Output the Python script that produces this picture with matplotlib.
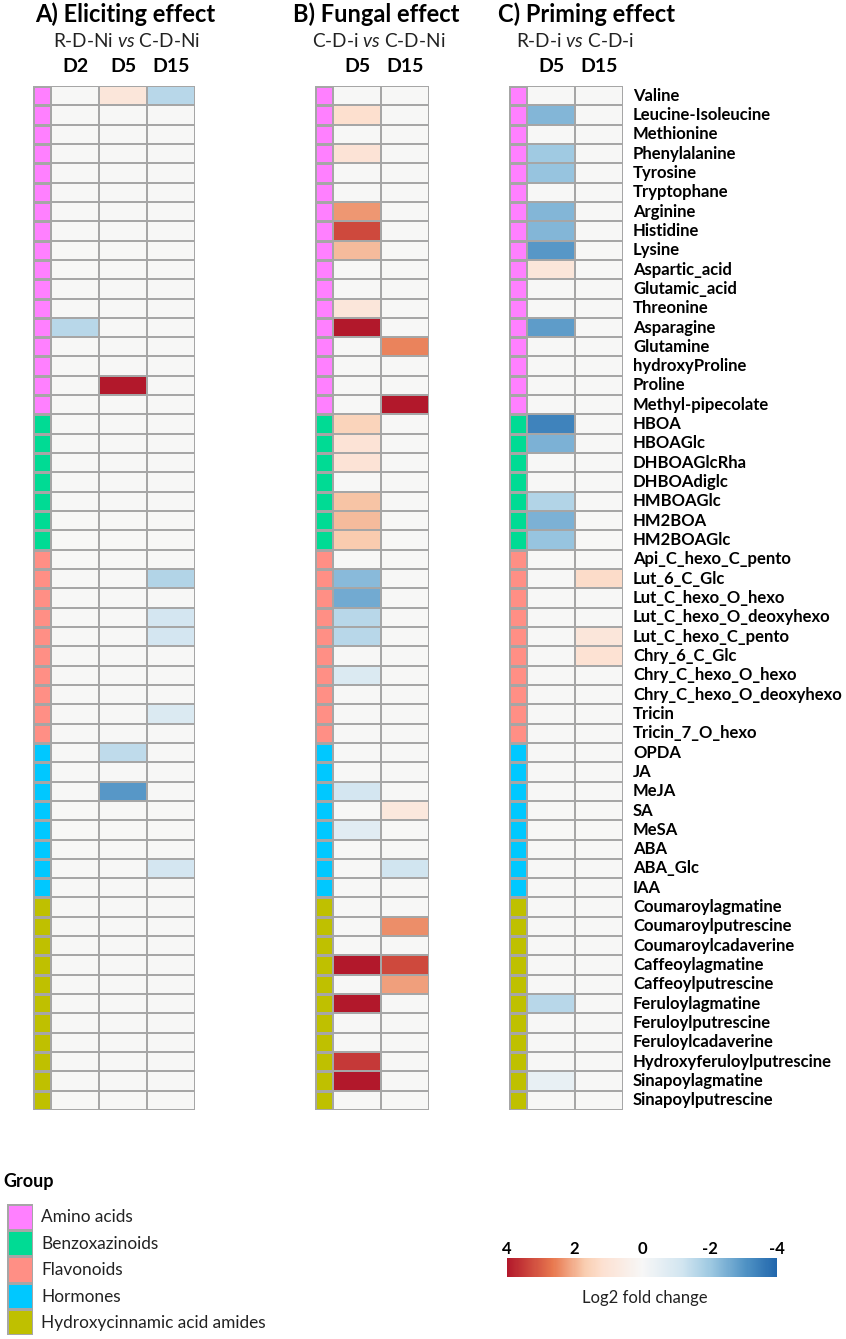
import numpy as np
import matplotlib
matplotlib.use("Agg")
import matplotlib.pyplot as plt
from matplotlib.cm import ScalarMappable
from matplotlib.colors import LinearSegmentedColormap, ListedColormap, Normalize

plt.rcParams['font.family'] = ['Lato', 'DejaVu Sans']
plt.rcParams['mathtext.fontset'] = 'custom'
plt.rcParams['mathtext.it'] = 'Lato:italic'
plt.rcParams['mathtext.rm'] = 'Lato'

W, H = 846, 1339

# data
metabolites = ["Valine", "Leucine-Isoleucine", "Methionine", "Phenylalanine", "Tyrosine", "Tryptophane",
               "Arginine", "Histidine", "Lysine", "Aspartic_acid", "Glutamic_acid", "Threonine",
               "Asparagine", "Glutamine", "hydroxyProline", "Proline", "Methyl-pipecolate",
               "HBOA", "HBOAGlc", "DHBOAGlcRha", "DHBOAdiglc", "HMBOAGlc", "HM2BOA", "HM2BOAGlc",
               "Api_C_hexo_C_pento", "Lut_6_C_Glc", "Lut_C_hexo_O_hexo", "Lut_C_hexo_O_deoxyhexo",
               "Lut_C_hexo_C_pento", "Chry_6_C_Glc", "Chry_C_hexo_O_hexo", "Chry_C_hexo_O_deoxyhexo",
               "Tricin", "Tricin_7_O_hexo",
               "OPDA", "JA", "MeJA", "SA", "MeSA", "ABA", "ABA_Glc", "IAA",
               "Coumaroylagmatine", "Coumaroylputrescine", "Coumaroylcadaverine", "Caffeoylagmatine",
               "Caffeoylputrescine", "Feruloylagmatine", "Feruloylputrescine", "Feruloylcadaverine",
               "Hydroxyferuloylputrescine", "Sinapoylagmatine", "Sinapoylputrescine"]
group_names = ["Amino acids", "Benzoxazinoids", "Flavonoids", "Hormones", "Hydroxycinnamic acid amides"]
group_sizes = [17, 7, 10, 8, 11]
group_colors = ["#FF80FF", "#00DB94", "#FF8F85", "#00C8FF", "#BFC000"]

# only the non zero cells, everything else is 0
elicit_d2 = {"Asparagine": -1.6}
elicit_d5 = {"Valine": 0.9, "Proline": 4, "OPDA": -1.5, "MeJA": -3}
elicit_d15 = {"Valine": -1.6, "Lut_6_C_Glc": -1.7, "Lut_C_hexo_O_deoxyhexo": -1.1, "Lut_C_hexo_C_pento": -1.1,
              "Tricin": -0.9, "ABA_Glc": -1.1}
fungal_d5 = {"Leucine-Isoleucine": 1.2, "Phenylalanine": 1.0, "Arginine": 2.3, "Histidine": 3.3, "Lysine": 1.9,
             "Threonine": 0.9, "Asparagine": 4, "HBOA": 1.5, "HBOAGlc": 1.0, "DHBOAGlcRha": 1.0, "HMBOAGlc": 1.8,
             "HM2BOA": 1.9, "HM2BOAGlc": 1.7, "Lut_6_C_Glc": -2.3, "Lut_C_hexo_O_hexo": -2.6,
             "Lut_C_hexo_O_deoxyhexo": -1.6, "Lut_C_hexo_C_pento": -1.6, "Chry_C_hexo_O_hexo": -0.9,
             "MeJA": -1.1, "MeSA": -0.7, "Caffeoylagmatine": 4, "Feruloylagmatine": 4,
             "Hydroxyferuloylputrescine": 3.5, "Sinapoylagmatine": 4}
fungal_d15 = {"Glutamine": 2.5, "Methyl-pipecolate": 4, "SA": 0.8, "ABA_Glc": -1.2, "Coumaroylputrescine": 2.4,
              "Caffeoylagmatine": 3.3, "Caffeoylputrescine": 2.2}
priming_d5 = {"Leucine-Isoleucine": -2.4, "Phenylalanine": -2.0, "Tyrosine": -2.1, "Arginine": -2.4,
              "Histidine": -2.4, "Lysine": -3.0, "Aspartic_acid": 0.9, "Asparagine": -2.9, "HBOA": -3.4,
              "HBOAGlc": -2.5, "HMBOAGlc": -1.7, "HM2BOA": -2.5, "HM2BOAGlc": -2.1, "Feruloylagmatine": -1.6,
              "Sinapoylagmatine": -0.5}
priming_d15 = {"Lut_6_C_Glc": 1.3, "Lut_C_hexo_C_pento": 0.9, "Chry_6_C_Glc": 1.1}

panels = [
    ("A) Eliciting effect", "R-D-Ni", "C-D-Ni", ["D2", "D5", "D15"], [elicit_d2, elicit_d5, elicit_d15], 33, 125, 127),
    ("B) Fungal effect", "C-D-i", "C-D-Ni", ["D5", "D15"], [fungal_d5, fungal_d15], 315, 376, 379),
    ("C) Priming effect", "R-D-i", "C-D-i", ["D5", "D15"], [priming_d5, priming_d15], 509, 586, 575),
]

# colour scale of the original, value -> colour
scale_vals = [-4, -3.1, -2, -1.2, 0, 1.2, 1.7, 2.65, 4]
scale_cols = ["#2166AC", "#4F92C4", "#A0CAE2", "#D1E5F0", "#F7F7F7", "#FDE0D0", "#F9CDB0", "#E8784F", "#B2182B"]
fold_cmap = LinearSegmentedColormap.from_list(
    "fold", [((v + 4) / 8, c) for v, c in zip(scale_vals, scale_cols)])

fig = plt.figure(figsize=(W / 100, H / 100), dpi=100)


def px_axes(x0, y0, x1, y1):
    return fig.add_axes([x0 / W, 1 - y1 / H, (x1 - x0) / W, (y1 - y0) / H])


def ftext(x, y, s, **kw):
    fig.text(x / W, 1 - y / H, s, va='center', **kw)


grid = "#A6A6A6"
top, bottom = 86, 1110
group_idx = np.repeat(np.arange(len(group_sizes)), group_sizes).reshape(-1, 1)
group_cmap = ListedColormap(group_colors)
n = len(metabolites)
order = {m: i for i, m in enumerate(metabolites)}

for title, a, b, days, cols, x0, title_x, sub_x in panels:
    # group strip
    ax = px_axes(x0, top, x0 + 18, bottom)
    ax.pcolormesh(group_idx, cmap=group_cmap, vmin=-0.5, vmax=4.5, edgecolors=grid, linewidth=1.0)
    ax.set_ylim(n, 0)
    ax.axis('off')

    # values
    vals = np.zeros((n, len(days)))
    for j, col in enumerate(cols):
        for name, v in col.items():
            vals[order[name], j] = v
    hx0 = x0 + 18
    hx1 = hx0 + 48 * len(days)
    ax = px_axes(hx0, top, hx1, bottom)
    ax.pcolormesh(vals, cmap=fold_cmap, vmin=-4, vmax=4, edgecolors=grid, linewidth=1.2)
    ax.set_ylim(n, 0)
    ax.axis('off')

    ftext(title_x, 14, title, fontsize=17, fontweight='bold', ha='center')
    ftext(sub_x, 41, "%s $\\mathit{vs}$ %s" % (a, b), fontsize=13.7, ha='center', color='#222222')
    for j, d in enumerate(days):
        ftext(hx0 + 24 + 48 * j, 67, d, fontsize=14, fontweight='bold', ha='center')

# row labels
row_h = (bottom - top) / n
for i, name in enumerate(metabolites):
    ftext(633, top + (i + 0.5) * row_h, name, fontsize=12, fontweight='bold', ha='left')

# group legend
ftext(3, 1181, "Group", fontsize=13, fontweight='bold', ha='left')
ax = px_axes(7, 1204, 33, 1335)
ax.pcolormesh(np.arange(5).reshape(-1, 1), cmap=group_cmap, vmin=-0.5, vmax=4.5, edgecolors=grid, linewidth=1.0)
ax.set_ylim(5, 0)
ax.axis('off')
for i, name in enumerate(group_names):
    ftext(41, 1217 + i * 26.6, name, fontsize=12.4, ha='left', color='#222222')

# colour bar
cax = px_axes(507, 1258, 777, 1277)
cb = fig.colorbar(ScalarMappable(Normalize(-4, 4), fold_cmap), cax=cax, orientation='horizontal')
cb.outline.set_visible(False)
cax.invert_xaxis()
cax.xaxis.set_ticks_position('top')
cb.set_ticks([4, 2, 0, -2, -4], labels=["4", "2", "0", "-2", "-4"])
cax.tick_params(length=0, pad=0.5, labelsize=12)
for t in cax.get_xticklabels():
    t.set_fontweight('bold')
ftext(645, 1298, "Log2 fold change", fontsize=12, ha='center', color='#222222')

fig.savefig("out.png", dpi=100)
